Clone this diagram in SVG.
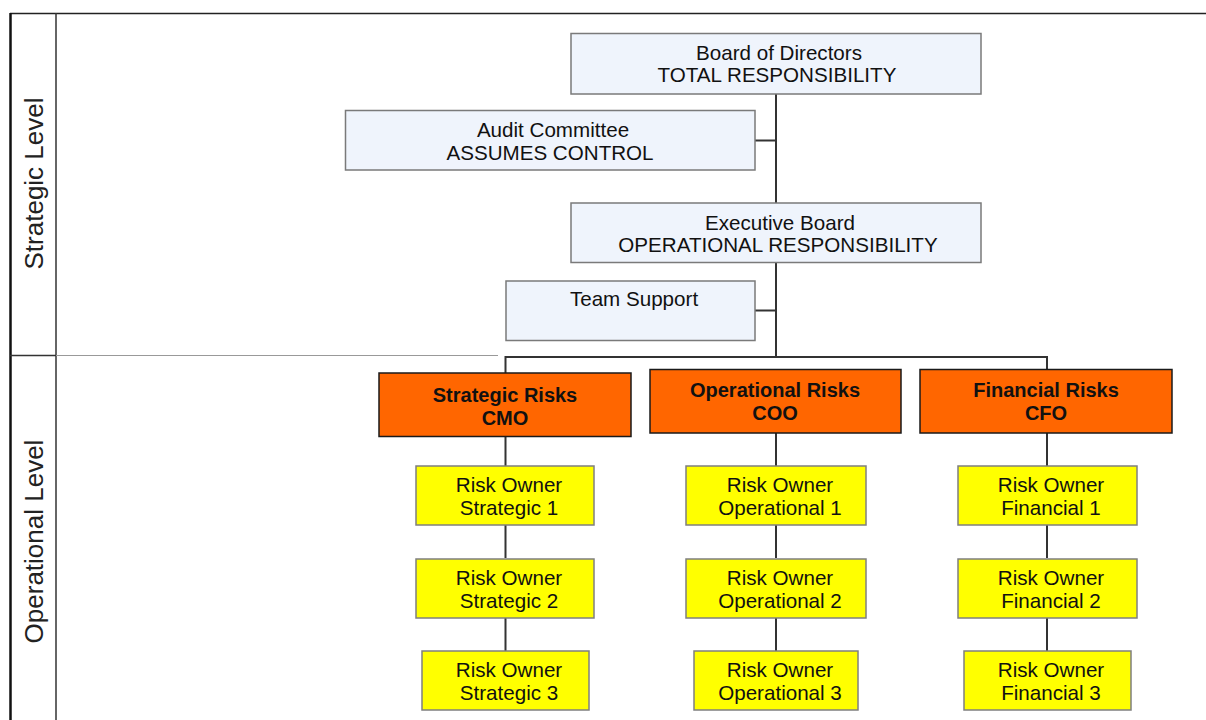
<svg xmlns="http://www.w3.org/2000/svg" width="1206" height="720" viewBox="0 0 1206 720">
<style>
text{font-family:"Liberation Sans",Arial,sans-serif;fill:#111;text-anchor:middle}
.t{font-size:20.6px}
.b{font-size:20px;font-weight:bold}
.lvl{font-size:26px;fill:#222}
.lb{fill:#EFF4FC;stroke:#7a7a7a;stroke-width:1.5}
.or{fill:#FF6600;stroke:#1a1a1a;stroke-width:1.5}
.ye{fill:#FFFF00;stroke:#7f7f7f;stroke-width:1.5}
.c{fill:none;stroke:#333;stroke-width:2}
</style>
<rect width="1206" height="720" fill="#fff"/>
<g id="frame" fill="none">
<line x1="10" y1="13.5" x2="1206" y2="13.5" stroke="#222" stroke-width="1.5"/>
<line x1="10.5" y1="13" x2="10.5" y2="720" stroke="#111" stroke-width="2.5"/>
<line x1="56" y1="13" x2="56" y2="720" stroke="#333" stroke-width="1.5"/>
<line x1="10" y1="355.5" x2="56" y2="355.5" stroke="#333" stroke-width="1.5"/>
<line x1="56" y1="355.5" x2="498" y2="355.5" stroke="#999" stroke-width="1.2"/>
<text class="lvl" transform="rotate(-90 43 183.5)" x="43" y="183.5">Strategic Level</text>
<text class="lvl" transform="rotate(-90 43 541.5)" x="43" y="541.5">Operational Level</text>
</g>
<g id="connectors">
<path class="c" d="M776 94V357"/>
<path class="c" d="M755 140.5H776"/>
<path class="c" d="M755 310.5H776"/>
<path class="c" d="M505.5 373V357H1047V369"/>
<path class="c" d="M505.5 437V466M505.5 525V558M505.5 618V651"/>
<path class="c" d="M776 433V466M776 525V558M776 618V651"/>
<path class="c" d="M1047 433V466M1047 525V558M1047 618V651"/>
</g>
<g id="board">
<rect class="lb" x="571" y="33.5" width="410" height="60.5"/>
<text class="t" x="779" y="60">Board of Directors</text>
<text class="t" x="777" y="82">TOTAL RESPONSIBILITY</text>
</g>
<g id="audit">
<rect class="lb" x="345.5" y="110.5" width="409.5" height="59.5"/>
<text class="t" x="553" y="137">Audit Committee</text>
<text class="t" x="550" y="159.5">ASSUMES CONTROL</text>
</g>
<g id="executive">
<rect class="lb" x="571" y="203" width="410" height="59.5"/>
<text class="t" x="780" y="229.5">Executive Board</text>
<text class="t" x="778" y="252">OPERATIONAL RESPONSIBILITY</text>
</g>
<g id="team">
<rect class="lb" x="506" y="281" width="249" height="59.5"/>
<text class="t" x="634" y="305.5">Team Support</text>
</g>
<g id="strategic-risks">
<rect class="or" x="379" y="373" width="252" height="63.5"/>
<text class="b" x="505" y="401.5">Strategic Risks</text>
<text class="b" x="505" y="424.5">CMO</text>
</g>
<g id="operational-risks">
<rect class="or" x="650" y="369.5" width="251" height="63.5"/>
<text class="b" x="775" y="397">Operational Risks</text>
<text class="b" x="775" y="420">COO</text>
</g>
<g id="financial-risks">
<rect class="or" x="920" y="369.5" width="252" height="63.5"/>
<text class="b" x="1046" y="397">Financial Risks</text>
<text class="b" x="1046" y="420">CFO</text>
</g>
<g id="s1"><rect class="ye" x="416" y="466" width="178" height="59"/><text class="t" x="509" y="492">Risk Owner</text><text class="t" x="509" y="515">Strategic 1</text></g>
<g id="s2"><rect class="ye" x="416" y="559" width="178" height="59"/><text class="t" x="509" y="585">Risk Owner</text><text class="t" x="509" y="608">Strategic 2</text></g>
<g id="s3"><rect class="ye" x="422" y="651" width="167" height="59"/><text class="t" x="509" y="677">Risk Owner</text><text class="t" x="509" y="700">Strategic 3</text></g>
<g id="o1"><rect class="ye" x="686" y="466" width="180" height="59"/><text class="t" x="780" y="492">Risk Owner</text><text class="t" x="780" y="515">Operational 1</text></g>
<g id="o2"><rect class="ye" x="686" y="559" width="180" height="59"/><text class="t" x="780" y="585">Risk Owner</text><text class="t" x="780" y="608">Operational 2</text></g>
<g id="o3"><rect class="ye" x="694" y="651" width="164" height="59"/><text class="t" x="780" y="677">Risk Owner</text><text class="t" x="780" y="700">Operational 3</text></g>
<g id="f1"><rect class="ye" x="958" y="466" width="179" height="59"/><text class="t" x="1051" y="492">Risk Owner</text><text class="t" x="1051" y="515">Financial 1</text></g>
<g id="f2"><rect class="ye" x="958" y="559" width="179" height="59"/><text class="t" x="1051" y="585">Risk Owner</text><text class="t" x="1051" y="608">Financial 2</text></g>
<g id="f3"><rect class="ye" x="964" y="651" width="167" height="59"/><text class="t" x="1051" y="677">Risk Owner</text><text class="t" x="1051" y="700">Financial 3</text></g>
</svg>
